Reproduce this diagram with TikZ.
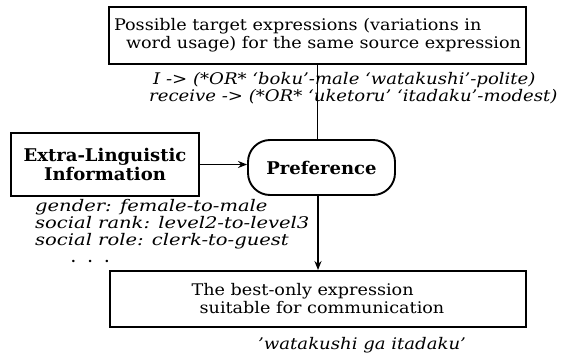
\documentclass[tikz,border=0pt]{standalone}
\usepackage{fontspec}
\setmainfont{DejaVu Serif}
\newfontfamily\wideserif{DejaVu Serif}[FakeStretch=1.10, Ligatures=TeX]
\newfontfamily\wideital{DejaVu Serif}[FakeStretch=1.13, Ligatures=TeX]
\newfontfamily\widerital{DejaVu Serif}[FakeStretch=1.22, Ligatures=TeX]
\newfontfamily\widebold{DejaVu Serif}[FakeStretch=1.03, Ligatures=TeX]
\usetikzlibrary{arrows.meta}
\begin{document}
\begin{tikzpicture}[x=1pt,y=-1pt,
  box/.style={draw, line width=1.9pt, inner sep=0pt, align=left},
  pbox/.style={draw, line width=1.9pt, rounded corners=22pt, inner sep=0pt},
  conn/.style={line width=1.5pt},
  arr/.style={conn, -{Stealth[length=9pt,width=7pt]}},
  txt/.style={font=\wideserif\fontsize{16}{18}\selectfont},
  btxt/.style={font=\widebold\fontsize{17.5}{19}\selectfont\bfseries},
  itxt/.style={font=\wideital\fontsize{16}{17}\selectfont\itshape, inner sep=0pt, anchor=west}
]
\useasboundingbox (0,0) rectangle (561,353);
\node[box, txt, minimum width=417pt, minimum height=57pt] (top) at (317.5,35.5)
  {Possible target expressions (variations in\\\hspace{12pt}word usage) for the same source expression};
\node[pbox, btxt, minimum width=147pt, minimum height=55pt] (pref) at (321.5,167.5) {Preference};
\node[box, btxt, align=center, minimum width=188pt, minimum height=63pt] (extra) at (105,164.5)
  {Extra-Linguistic\\Information};
\node[box, txt, minimum width=416pt, minimum height=56pt] (best) at (318,299)
  {The best-only expression\\\hspace{8pt}suitable for communication};
\node[itxt] (a1) at (153,80) {I -> (*OR* `boku'-male `watakushi'-polite)};
\node[itxt] (a2) at (149,97) {receive -> (*OR* `uketoru' `itadaku'-modest)};
\node[itxt, anchor=north west, align=left, font=\widerital\fontsize{16}{15}\selectfont\itshape] (ext) at (35,199)
  {gender: female-to-male\\social rank: level2-to-level3\\[2pt]social role: clerk-to-guest};
\node[itxt, anchor=base west, font=\widebold\fontsize{13}{13}\selectfont\bfseries] (dots) at (71,262) {.\hspace{12pt}.\hspace{12pt}.};
\node[itxt] (res) at (258,345) {'watakushi ga itadaku'};
\draw[conn] (top.south) -- (top.south |- pref.north);
\draw[arr] (extra.east) -- (pref.west |- extra.east);
\draw[arr] (pref.south -| best.north) -- (best.north);
\end{tikzpicture}
\end{document}
